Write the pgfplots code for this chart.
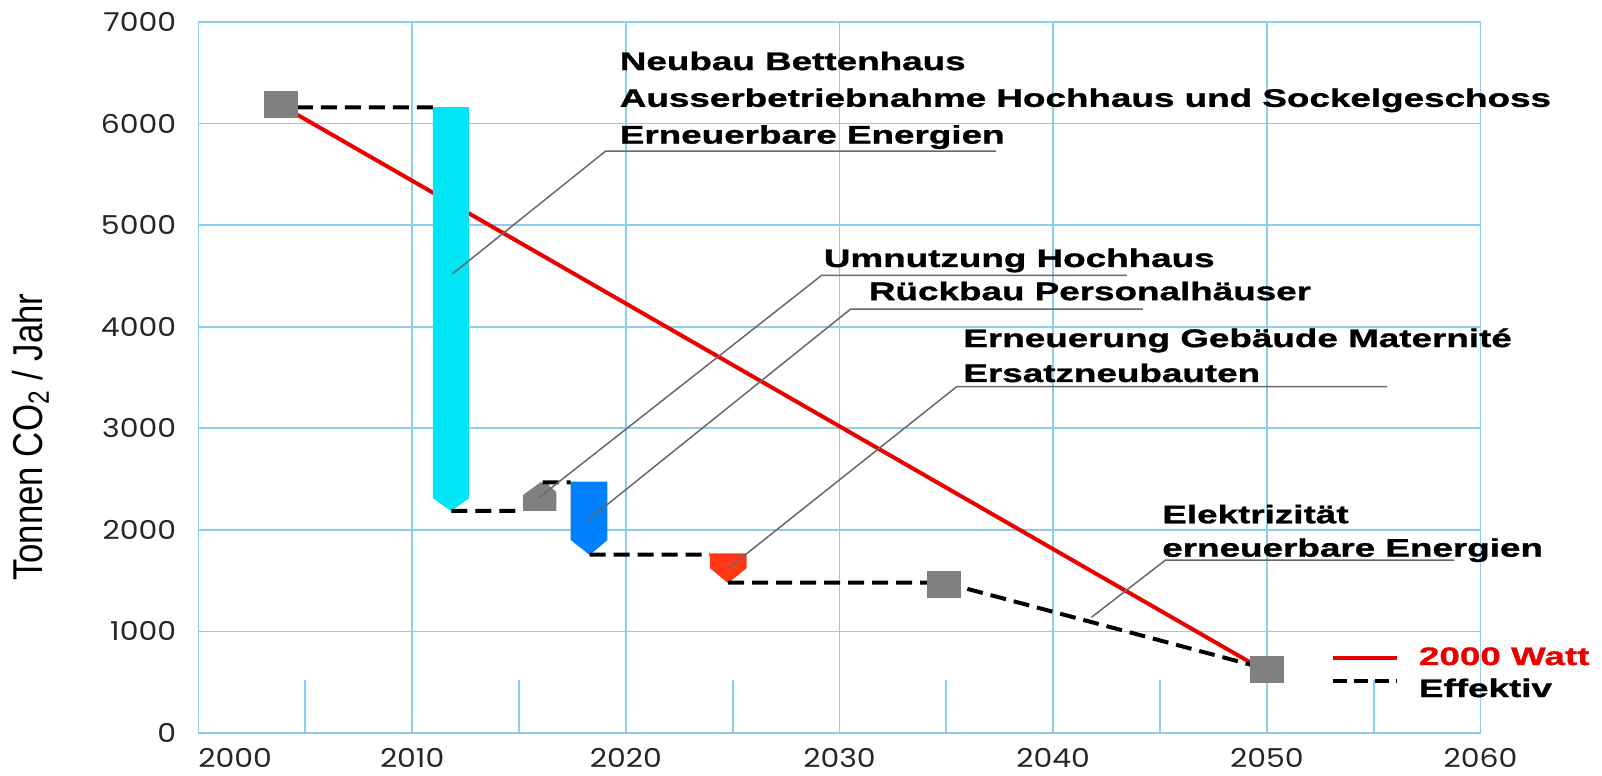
\documentclass[border=0pt]{standalone}
\usepackage{pgfplots}
\pgfplotsset{compat=1.18}
\usepackage{graphicx}
\usepackage{fontspec}
\setmainfont{Liberation Sans}
\newfontfamily\annfont{Liberation Sans}[FakeStretch=1.45, FakeBold=1.2]
\newfontfamily\tickfont{Poppins}[FakeStretch=1.15]
\definecolor{gridblue}{RGB}{140,205,240}
\definecolor{cyanbar}{RGB}{0,230,245}
\definecolor{bluebar}{RGB}{0,128,250}
\definecolor{redbar}{RGB}{255,55,20}
\definecolor{grayshape}{RGB}{128,128,128}
\definecolor{leader}{RGB}{105,105,105}
\definecolor{redline}{RGB}{235,0,0}
\newcommand{\ann}{\annfont\bfseries\fontsize{12.7}{15.25}\selectfont}
\begin{document}
\begin{tikzpicture}
\path[use as bounding box] (-99.25pt,-21.5pt) rectangle (701.75pt,366.5pt);
\begin{axis}[
  scale only axis, width=641pt, height=355.5pt,
  xmin=2000, xmax=2060, ymin=0, ymax=7000,
  xtick={2000,2010,...,2060}, ytick={0,1000,...,7000},
  xticklabels={\makebox[0pt][l]{2000},2010,2020,2030,2040,2050,2060},
  yticklabels={0,1000,2000,3000,4000,5000,6000,7000},
  grid=major, major grid style={gridblue, line width=0.9pt},
  axis line style={gridblue, line width=0.9pt},
  major tick length=0pt, tick style={draw=none},
  ticklabel style={font=\tickfont\fontsize{13}{14}\selectfont, text=black!85},
  xticklabel style={anchor=north, inner sep=0pt, yshift=-7.5pt},
  yticklabel style={anchor=east, inner sep=0pt, xshift=-11pt},
  ylabel={\scalebox{1}[1.2]{Tonnen CO\textsubscript{2} / Jahr}},
  ylabel style={font=\fontsize{17.4}{20}\selectfont, at={(rel axis cs:-0.131,0.416)}, anchor=center},
  clip=false,
  unbounded coords=jump,
]
% short minor grid lines
\draw[gridblue, line width=0.9pt] (axis cs:2005,0) -- (axis cs:2005,520);
\draw[gridblue, line width=0.9pt] (axis cs:2015,0) -- (axis cs:2015,520);
\draw[gridblue, line width=0.9pt] (axis cs:2025,0) -- (axis cs:2025,520);
\draw[gridblue, line width=0.9pt] (axis cs:2035,0) -- (axis cs:2035,520);
\draw[gridblue, line width=0.9pt] (axis cs:2045,0) -- (axis cs:2045,520);
\draw[gridblue, line width=0.9pt] (axis cs:2055,0) -- (axis cs:2055,520);

% 2000 Watt path
\addplot[redline, line width=2pt, no marks] coordinates {(2004.6,6090) (2049.6,650)};

% measure shapes
\addplot[fill=cyanbar, draw=none, no marks] coordinates {(2010.97,6163) (2012.66,6163) (2012.66,2311) (2011.82,2186) (2010.97,2311)};
\addplot[fill=grayshape, draw=none, no marks] coordinates {(2015.19,2186) (2015.19,2343) (2016.0,2468) (2016.25,2468) (2016.75,2370) (2016.75,2186)};
\addplot[fill=bluebar, draw=none, no marks] coordinates {(2017.42,2474) (2019.14,2474) (2019.14,1900) (2018.31,1752) (2017.42,1900)};
\addplot[fill=redbar, draw=none, no marks] coordinates {(2023.93,1769) (2025.65,1769) (2025.65,1624) (2024.79,1474) (2023.93,1624)};

% Effektiv path
\addplot[black, line width=2pt, dash pattern=on 8pt off 4pt, no marks] coordinates {
 (2004.6,6160) (2011.0,6160) (2011.5,nan)
 (2011.84,2186) (2015.19,2186) (2015.5,nan)
 (2016.1,2468) (2017.42,2468) (2017.8,nan)
 (2018.31,1757) (2023.93,1757) (2024.3,nan)
 (2024.79,1480) (2034.9,1480) (2050.0,630)};

% leader lines
\draw[leader, line width=0.75pt] (axis cs:2011.88,4519) -- (axis cs:2019.06,5730) -- (axis cs:2037.33,5730);
\draw[leader, line width=0.75pt] (axis cs:2015.89,2311) -- (axis cs:2029.16,4505) -- (axis cs:2043.45,4505);
\draw[leader, line width=0.75pt] (axis cs:2018.23,2097) -- (axis cs:2030.52,4174) -- (axis cs:2044.2,4174);
\draw[leader, line width=0.75pt] (axis cs:2024.79,1621) -- (axis cs:2035.48,3409) -- (axis cs:2055.63,3409);
\draw[leader, line width=0.75pt] (axis cs:2041.79,1139) -- (axis cs:2045.26,1703) -- (axis cs:2058.78,1703);

% milestones
\addplot[grayshape, only marks, mark=square*, mark size=6.5pt, mark options={fill=grayshape, draw=grayshape, line width=0pt, xscale=1.27}] coordinates {(2003.84,6183) (2034.9,1465) (2050.0,623)};

% annotations
\node[anchor=base west, inner sep=0pt, font=\ann] at (axis cs:2019.7,6527) {Neubau Bettenhaus};
\node[anchor=base west, inner sep=0pt, font=\ann] at (axis cs:2019.7,6165) {Ausserbetriebnahme Hochhaus und Sockelgeschoss};
\node[anchor=base west, inner sep=0pt, font=\ann] at (axis cs:2019.7,5803) {Erneuerbare Energien};
\node[anchor=base west, inner sep=0pt, font=\ann] at (axis cs:2029.25,4588) {Umnutzung Hochhaus};
\node[anchor=base west, inner sep=0pt, font=\ann] at (axis cs:2031.36,4262) {Rückbau Personalhäuser};
\node[anchor=base west, inner sep=0pt, font=\ann] at (axis cs:2035.78,3800) {Erneuerung Gebäude Maternité};
\node[anchor=base west, inner sep=0pt, font=\ann] at (axis cs:2035.78,3456) {Ersatzneubauten};
\node[anchor=base west, inner sep=0pt, font=\ann] at (axis cs:2045.09,2065) {Elektrizität};
\node[anchor=base west, inner sep=0pt, font=\ann] at (axis cs:2045.09,1736) {erneuerbare Energien};

% legend
\draw[redline, line width=2pt] (axis cs:2053.1,741) -- (axis cs:2056.1,741);
\draw[black, line width=2pt, dash pattern=on 7pt off 3.5pt] (axis cs:2053.1,512) -- (axis cs:2056.1,512);
\node[anchor=base west, inner sep=0pt, font=\ann, text=redline] at (axis cs:2057.1,669) {2000 Watt};
\node[anchor=base west, inner sep=0pt, font=\ann] at (axis cs:2057.1,354) {Effektiv};
\end{axis}
\end{tikzpicture}
\end{document}
